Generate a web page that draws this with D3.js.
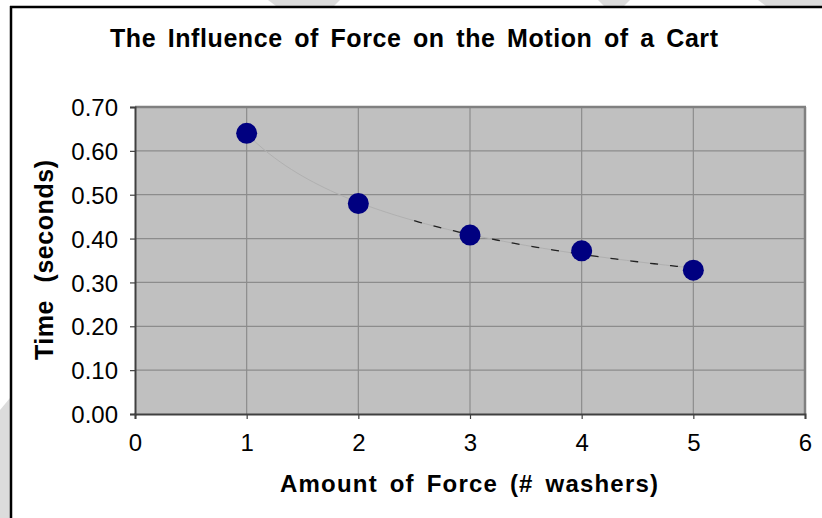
<!DOCTYPE html>
<html>
<head>
<meta charset="utf-8">
<script src="https://cdn.jsdelivr.net/npm/d3@7"></script>
<style>
  body { margin: 0; background: #fff; }
  svg { display: block; font-family: Arial, "Liberation Sans", sans-serif; }
</style>
</head>
<body>
<svg id="chart"></svg>
<script>
const washers = [1, 2, 3, 4, 5];
const seconds = [0.64, 0.48, 0.408, 0.372, 0.328];
const xTicks = [0, 1, 2, 3, 4, 5, 6];
const yTicks = [0, 0.1, 0.2, 0.3, 0.4, 0.5, 0.6, 0.7];

const width = 822, height = 518;
const plot = { left: 135, right: 805, top: 107, bottom: 414 };

const svg = d3.select("#chart")
    .attr("width", width)
    .attr("height", height);

// faint watermark bands in the background
const bands = [
    [[268, 0], [340, 0], [334, 6], [276, 6]],
    [[598, 0], [630, 0], [624, 6], [604, 6]],
    [[758, 0], [822, 0], [822, 6], [766, 6]],
    [[0, 410], [10, 398], [10, 518], [0, 518]]
];
svg.selectAll(".band")
    .data(bands)
    .enter().append("polygon")
    .attr("points", d => d.map(p => p.join(",")).join(" "))
    .attr("fill", "#dcdcdc");

// chart frame (top and left edges visible)
svg.append("line").attr("x1", 10).attr("x2", width).attr("y1", 7).attr("y2", 7)
    .attr("stroke", "#000").attr("stroke-width", 2.5);
svg.append("line").attr("x1", 11).attr("x2", 11).attr("y1", 6).attr("y2", height)
    .attr("stroke", "#000").attr("stroke-width", 2.5);

const x = d3.scaleLinear().domain([0, 6]).range([plot.left, plot.right]);
const y = d3.scaleLinear().domain([0, 0.7]).range([plot.bottom, plot.top]);

svg.append("rect")
    .attr("x", plot.left).attr("y", plot.top)
    .attr("width", plot.right - plot.left).attr("height", plot.bottom - plot.top)
    .attr("fill", "#c0c0c0");

// gridlines
svg.append("g")
    .selectAll("line")
    .data(yTicks.slice(1))
    .enter().append("line")
    .attr("x1", plot.left).attr("x2", plot.right)
    .attr("y1", d => y(d)).attr("y2", d => y(d))
    .attr("stroke", "#8c8c8c").attr("stroke-width", 1.2);
svg.append("g")
    .selectAll("line")
    .data(xTicks.slice(1))
    .enter().append("line")
    .attr("y1", plot.top).attr("y2", plot.bottom)
    .attr("x1", d => x(d)).attr("x2", d => x(d))
    .attr("stroke", "#8c8c8c").attr("stroke-width", 1.2);

// plot border: top and right are grey, axes darker
svg.append("line").attr("x1", plot.left).attr("x2", plot.right + 1)
    .attr("y1", plot.top).attr("y2", plot.top)
    .attr("stroke", "#808080").attr("stroke-width", 2.5);
svg.append("line").attr("x1", plot.right).attr("x2", plot.right)
    .attr("y1", plot.top).attr("y2", plot.bottom)
    .attr("stroke", "#808080").attr("stroke-width", 2.5);

// axes
const xAxis = d3.axisBottom(x).tickValues(xTicks).tickSize(5).tickPadding(15)
    .tickFormat(d3.format("d"));
const yAxis = d3.axisLeft(y).tickValues(yTicks).tickSize(5).tickPadding(12)
    .tickFormat(d3.format(".2f"));

const gx = svg.append("g").attr("transform", `translate(0,${plot.bottom})`).call(xAxis);
const gy = svg.append("g").attr("transform", `translate(${plot.left},0)`).call(yAxis);
[gx, gy].forEach(g => {
    g.select(".domain").attr("stroke", "#404040").attr("stroke-width", 2);
    g.selectAll(".tick line").attr("stroke", "#404040").attr("stroke-width", 1.2);
    g.selectAll(".tick text")
        .attr("fill", "#000")
        .style("font-family", "Arial, 'Liberation Sans', sans-serif")
        .style("font-size", "24px");
});
gy.selectAll(".tick text").attr("dy", "0.36em");

// power trendline fitted from the data
const lx = washers.map(Math.log), ly = seconds.map(Math.log);
const mx = d3.mean(lx), my = d3.mean(ly);
const b = d3.sum(lx.map((v, i) => (v - mx) * (ly[i] - my))) / d3.sum(lx.map(v => (v - mx) ** 2));
const a = Math.exp(my - b * mx);
const trendX = d3.range(1, 5.001, 0.05);
const trend = d3.line().x(d => x(d)).y(d => y(a * Math.pow(d, b)));

svg.append("path").datum(trendX)
    .attr("d", trend)
    .attr("fill", "none")
    .attr("stroke", "#b0b0b0").attr("stroke-width", 1);
svg.append("path").datum(trendX.filter(d => d >= 2.5))
    .attr("d", trend)
    .attr("fill", "none")
    .attr("stroke", "#222").attr("stroke-width", 1.3)
    .attr("stroke-dasharray", "8,12");

// data points
svg.append("g")
    .selectAll("circle")
    .data(washers)
    .enter().append("circle")
    .attr("cx", d => x(d))
    .attr("cy", (d, i) => y(seconds[i]))
    .attr("r", 10.5)
    .attr("fill", "#000080");

// titles
svg.append("text")
    .attr("x", 110).attr("y", 47)
    .attr("textLength", 608).attr("lengthAdjust", "spacing")
    .style("font-size", "25px").style("font-weight", "bold")
    .style("word-spacing", "4px")
    .text("The Influence of Force on the Motion of a Cart");

svg.append("text")
    .attr("x", 280).attr("y", 492)
    .attr("textLength", 378).attr("lengthAdjust", "spacing")
    .style("font-size", "24px").style("font-weight", "bold")
    .style("word-spacing", "4px")
    .text("Amount of Force (# washers)");

svg.append("text")
    .attr("transform", "translate(53,360) rotate(-90)")
    .attr("textLength", 200).attr("lengthAdjust", "spacing")
    .style("font-size", "25px").style("font-weight", "bold")
    .style("word-spacing", "10px")
    .text("Time (seconds)");
</script>
</body>
</html>
